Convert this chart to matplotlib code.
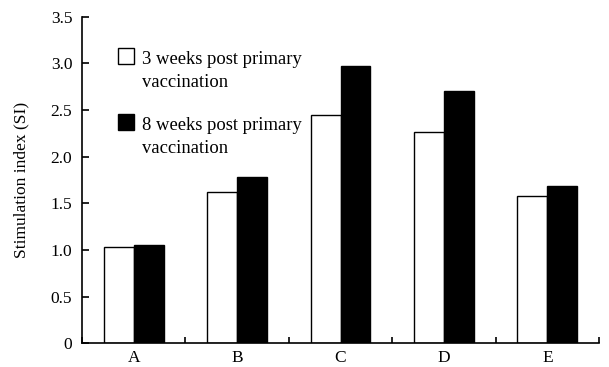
import matplotlib.pyplot as plt
import numpy as np
from matplotlib.patches import Rectangle

plt.rcParams['font.family'] = ['Liberation Serif', 'DejaVu Serif']

groups = ['A', 'B', 'C', 'D', 'E']
week3 = [1.03, 1.62, 2.45, 2.26, 1.58]
week8 = [1.05, 1.78, 2.97, 2.70, 1.69]
yticks = [0, 0.5, 1.0, 1.5, 2.0, 2.5, 3.0, 3.5]
ytick_labels = ['0', '0.5', '1.0', '1.5', '2.0', '2.5', '3.0', '3.5']
legend_labels = ['3 weeks post primary\nvaccination', '8 weeks post primary\nvaccination']

fig = plt.figure(figsize=(6.09, 3.67), dpi=100)
ax = fig.add_axes([82 / 609, 1 - 343.3 / 367, (599 - 82) / 609, (343.3 - 16.7) / 367])

x = np.arange(len(groups)) + 0.5
w = 0.29
ax.bar(x - w / 2, week3, w, color='white', edgecolor='black', linewidth=1.0)
ax.bar(x + w / 2, week8, w, color='black', edgecolor='black', linewidth=1.0)

ax.set_xlim(0, 5)
ax.set_ylim(0, 3.5)
ax.set_xticks(np.arange(0, 6))
ax.set_xticklabels([])
ax.set_xticks(x, minor=True)
ax.set_xticklabels(groups, minor=True, fontsize=12.5)
ax.tick_params(axis='x', which='minor', length=0, pad=5)
ax.tick_params(axis='x', which='major', direction='in', length=4, width=1.2)
ax.set_yticks(yticks)
ax.set_yticklabels(ytick_labels, fontsize=12.5)
ax.tick_params(axis='y', direction='in', length=5, width=1.2, pad=7)
for s in ['top', 'right']:
    ax.spines[s].set_visible(False)
for s in ['left', 'bottom']:
    ax.spines[s].set_linewidth(1.2)
ax.set_ylabel('Stimulation index (SI)', fontsize=12.5, labelpad=15)

# legend drawn by hand: square lines up with the first text line
for i, (lab, fc) in enumerate(zip(legend_labels, ['white', 'black'])):
    y0 = 48 + i * 66
    fig.patches.append(Rectangle((118 / 609, 1 - (y0 + 16) / 367), 16 / 609, 16 / 367,
                                 transform=fig.transFigure, facecolor=fc,
                                 edgecolor='black', linewidth=1.0))
    fig.text(142 / 609, 1 - (y0 + 3) / 367, lab, fontsize=13.4, va='top', ha='left',
             linespacing=1.45)

fig.savefig('out.png', dpi=100)
